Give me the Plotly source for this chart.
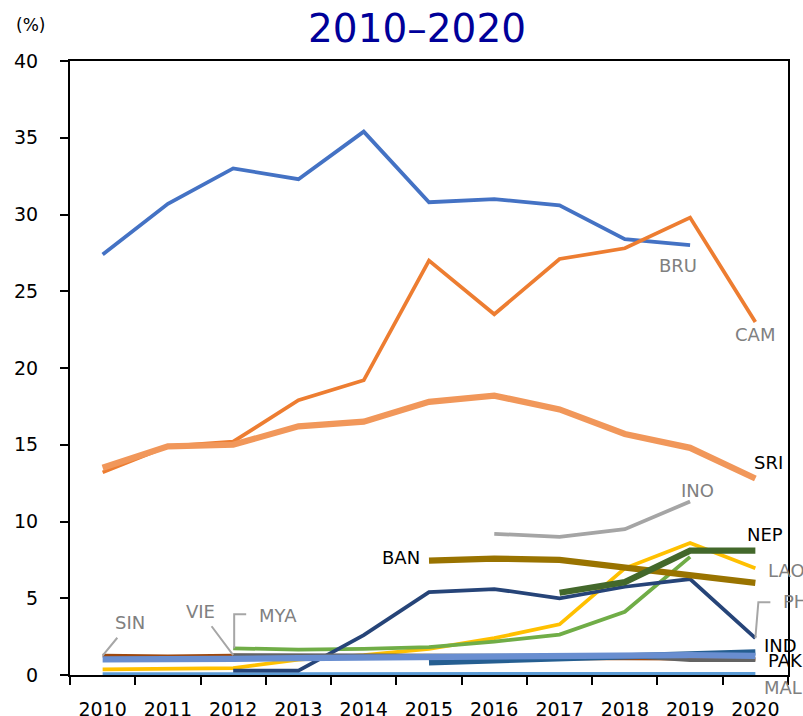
import plotly.graph_objects as go

# Share of GDP (%), 2010-2020
years = ["2010", "2011", "2012", "2013", "2014", "2015", "2016", "2017", "2018", "2019", "2020"]

BRU = [27.4, 30.7, 33.0, 32.3, 35.4, 30.8, 31.0, 30.6, 28.4, 28.0, None]
CAM = [13.2, 14.9, 15.2, 17.9, 19.2, 27.0, 23.5, 27.1, 27.8, 29.8, 23.0]
INO = [None, None, None, None, None, None, 9.2, 9.0, 9.5, 11.3, None]
LAO = [0.37, 0.42, 0.45, 1.0, 1.3, 1.7, 2.4, 3.3, 6.95, 8.6, 6.95]
MAL = [0.06, 0.06, 0.07, 0.07, 0.07, 0.07, 0.07, 0.07, 0.07, 0.07, 0.07]
MYA = [None, None, 1.74, 1.65, 1.7, 1.82, 2.17, 2.63, 4.12, 7.7, None]
PHI = [None, None, 0.28, 0.28, 2.6, 5.4, 5.6, 5.0, 5.75, 6.25, 2.4]
SIN = [1.26, 1.22, 1.26, 1.2, 1.18, 1.15, 1.1, 1.08, 1.08, 1.05, 1.05]
VIE = [None, None, 1.3, 1.3, 1.3, 1.3, 1.3, 1.28, 1.25, 0.97, 0.97]
BAN = [None, None, None, None, None, 7.45, 7.58, 7.5, 7.0, 6.45, 6.0]
IND = [None, None, None, None, None, 0.82, 0.95, 1.1, 1.2, 1.35, 1.48]
NEP = [None, None, None, None, None, None, None, 5.36, 6.05, 8.1, 8.1]
PAK = [1.02, 1.0, 1.05, 1.1, 1.15, 1.2, 1.25, 1.3, 1.3, 1.3, 1.25]
SRI = [13.5, 14.9, 15.0, 16.2, 16.5, 17.8, 18.2, 17.3, 15.7, 14.8, 12.8]

y_ticks = [0, 5, 10, 15, 20, 25, 30, 35, 40]

# (name, values, colour, width) in drawing order
series = [
    ("BRU", BRU, "#4472C4", 3.75),
    ("CAM", CAM, "#ED7D31", 3.75),
    ("INO", INO, "#A5A5A5", 3.75),
    ("LAO", LAO, "#FFC000", 3.75),
    ("MAL", MAL, "#5B9BD5", 3.75),
    ("MYA", MYA, "#70AD47", 3.75),
    ("PHI", PHI, "#264478", 3.75),
    ("SIN", SIN, "#9E480E", 3.75),
    ("VIE", VIE, "#636363", 3.75),
    ("BAN", BAN, "#997300", 6.25),
    ("IND", IND, "#255E91", 6.25),
    ("NEP", NEP, "#43682B", 6.25),
    ("PAK", PAK, "#698ED0", 6.25),
    ("SRI", SRI, "#F1975A", 6.25),
]

FONT = "DejaVu Sans"
GREY = "#808080"
LEADER = "#A6A6A6"

fig = go.Figure()
for name, vals, col, w in series:
    fig.add_trace(go.Scatter(
        x=years, y=vals, name=name, mode="lines",
        line=dict(color=col, width=w), connectgaps=False,
        hoverinfo="x+y+name",
    ))


def idx(year):
    return years.index(year)


def last_point(vals):
    i = max(k for k, v in enumerate(vals) if v is not None)
    return i, vals[i]


def first_point(vals):
    i = min(k for k, v in enumerate(vals) if v is not None)
    return i, vals[i]


annotations = []


def label(text, pt, dx, dy, color, xanchor="center"):
    annotations.append(dict(
        x=pt[0], y=pt[1], xref="x", yref="y", text=text, showarrow=False,
        xshift=dx, yshift=dy, xanchor=xanchor, yanchor="middle",
        font=dict(family=FONT, size=18, color=color),
    ))


label("BRU", last_point(BRU), -12, -20, GREY)
label("CAM", last_point(CAM), 0, -13, GREY)
label("SRI", last_point(SRI), 13, 16, "black")
label("INO", last_point(INO), 7, 11, GREY)
label("NEP", last_point(NEP), 10, 16, "black")
label("LAO", last_point(LAO), 11, -2, GREY, "left")
label("PHI", last_point(PHI), 26, 37, GREY, "left")
label("IND", last_point(IND), 7, 7, "black", "left")
label("PAK", last_point(PAK), 11, -5, "black", "left")
label("MAL", last_point(MAL), 7, -14, GREY, "left")
label("MYA", first_point(MYA), 24, 33, GREY, "left")
label("BAN", first_point(BAN), -7, 3, "black", "right")

# straight leader lines
for text, pt, ax, ay in [("SIN", first_point(SIN), 27, -33),
                         ("VIE", (idx("2012"), VIE[idx("2012")]), -33, -44)]:
    annotations.append(dict(
        x=pt[0], y=pt[1], xref="x", yref="y", text=text, showarrow=True,
        arrowhead=0, arrowwidth=2, arrowcolor=LEADER, ax=ax, ay=ay,
        standoff=0, startstandoff=4,
        font=dict(family=FONT, size=18, color=GREY),
    ))

# title and unit (positions given in page pixels, converted below)
annotations.append(dict(
    x=417, y=29, xref="paper", yref="paper", text="2010\u20132020", showarrow=False,
    xanchor="center", yanchor="middle",
    font=dict(family=FONT, size=39, color="#000099"),
))
annotations.append(dict(
    x=30, y=25, xref="paper", yref="paper", text="(%)", showarrow=False,
    xanchor="center", yanchor="middle",
    font=dict(family=FONT, size=17, color="black"),
))

W, H = 803, 716
L, R, T, B = 70, 15, 61, 41
pw, ph = W - L - R, H - T - B
for a in annotations:
    if a["xref"] == "paper":
        a["x"] = (a["x"] - L) / pw
        a["y"] = 1 - (a["y"] - T) / ph

# elbow leaders (pixel offsets from the series end points)
shapes = []
for pt, path in [(first_point(MYA), "M 1,0 L 1,34 L 13,34"),
                 (last_point(PHI), "M 0,0 L 3,36 L 15,36")]:
    shapes.append(dict(
        type="path", xref="x", yref="y", xsizemode="pixel", ysizemode="pixel",
        xanchor=pt[0], yanchor=pt[1], path=path,
        line=dict(color=LEADER, width=2),
    ))

fig.update_layout(
    width=W, height=H,
    margin=dict(l=L, r=R, t=T, b=B, pad=0),
    paper_bgcolor="white", plot_bgcolor="white",
    showlegend=False,
    font=dict(family=FONT, size=19, color="black"),
    annotations=annotations,
    shapes=shapes,
    xaxis=dict(
        type="category", range=[-0.5, 10.5], tickson="boundaries",
        ticks="outside", ticklen=8, tickwidth=2, tickcolor="black",
        showline=True, linecolor="black", linewidth=2, mirror=True,
        showgrid=False, zeroline=False, ticklabelstandoff=16, automargin=False,
        tickfont=dict(family=FONT, size=19, color="black"),
    ),
    yaxis=dict(
        range=[0, 40], tickvals=y_ticks,
        ticks="outside", ticklen=8, tickwidth=2, tickcolor="black",
        showline=True, linecolor="black", linewidth=2, mirror=True,
        showgrid=False, zeroline=False, ticklabelstandoff=18, automargin=False,
        tickfont=dict(family=FONT, size=19, color="black"),
    ),
)

fig.write_html("out.html")
